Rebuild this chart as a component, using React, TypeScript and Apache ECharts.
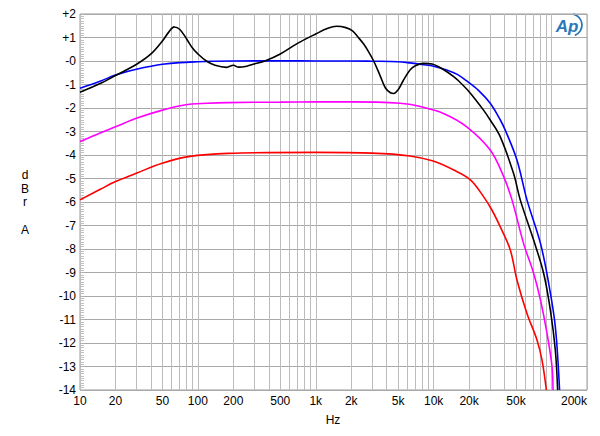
import React, { useEffect, useRef } from 'react';
import * as echarts from 'echarts';

const blackHz = [10, 15, 20, 30, 40, 50, 57, 63, 70, 80, 90, 100, 118, 140, 175, 200, 220, 260, 300, 370, 500, 700, 1000, 1250, 1500, 1800, 2050, 2300, 2550, 2800, 3100, 3500, 3900, 4300, 4600, 5000, 5500, 6300, 7000, 8200, 9700, 12000, 14800, 17500, 20500, 26500, 30200, 36700, 47600, 54300, 70500, 85700, 97800, 107700, 112700];
const blackDb = [-1.33, -0.95, -0.62, -0.15, 0.3, 0.85, 1.25, 1.45, 1.35, 0.95, 0.55, 0.3, 0.0, -0.18, -0.27, -0.18, -0.26, -0.22, -0.13, 0.0, 0.3, 0.75, 1.15, 1.38, 1.48, 1.42, 1.28, 1.0, 0.72, 0.4, 0.0, -0.6, -1.15, -1.35, -1.38, -1.22, -0.85, -0.38, -0.2, -0.1, -0.13, -0.35, -0.67, -1.0, -1.37, -2.09, -2.51, -3.22, -4.78, -5.91, -7.62, -9.03, -10.6, -12.3, -14];

const blueHz = [10, 15, 20, 30, 40, 50, 70, 100, 130, 200, 500, 1000, 2000, 3000, 5000, 6300, 8000, 10000, 12900, 16000, 19100, 24000, 30200, 36700, 40500, 50900, 61900, 80600, 94600, 107700, 117000];
const blueDb = [-1.16, -0.85, -0.6, -0.35, -0.22, -0.14, -0.07, -0.03, -0.01, 0.0, 0.01, 0.0, 0.0, -0.01, -0.03, -0.08, -0.15, -0.22, -0.38, -0.58, -0.85, -1.25, -1.8, -2.5, -2.94, -4.21, -5.91, -7.76, -9.46, -11.3, -14];

const magentaHz = [10, 15, 20, 30, 50, 77, 120, 180, 500, 1000, 2000, 5200, 7700, 12100, 19100, 30200, 39300, 46200, 57900, 70500, 80600, 91600, 101000, 103000];
const magentaDb = [-3.43, -3.05, -2.8, -2.44, -2.09, -1.87, -1.8, -1.77, -1.75, -1.74, -1.74, -1.8, -1.94, -2.23, -2.8, -3.79, -4.92, -5.91, -7.76, -9.03, -10.17, -11.59, -13.0, -14];

const redHz = [10, 15, 20, 30, 49, 83, 180, 1000, 3000, 6300, 9900, 14800, 20500, 26500, 31200, 36700, 44700, 50900, 61900, 75300, 83000, 90400];
const redDb = [-5.91, -5.45, -5.13, -4.78, -4.36, -4.07, -3.93, -3.89, -3.92, -4.04, -4.26, -4.64, -5.06, -5.77, -6.34, -7.05, -8.04, -9.32, -10.74, -11.87, -12.72, -14];

const xLabelHz = [10, 20, 50, 100, 200, 500, 1000, 2000, 5000, 10000, 20000, 50000, 100000, 200000];
const yMin = -14;
const yMax = 2;

const FONT = 'Liberation Sans, Arial, sans-serif';

function gridHz(): number[] {
  const out: number[] = [];
  for (let d = 10; d <= 100000; d *= 10) {
    for (let m = 1; m <= 9; m++) {
      const f = m * d;
      if (f <= 200000) out.push(f);
    }
  }
  out.push(200000);
  return out;
}

function fmtHz(v: number): string {
  const f = Math.round(Math.pow(10, v));
  return f >= 1000 ? f / 1000 + 'k' : String(f);
}

function fmtDb(v: number): string {
  if (v > 0) return '+' + v;
  if (v === 0) return '-0';
  return String(v);
}

function toData(hz: number[], db: number[]) {
  return hz.map((f, i) => [Math.log10(f), db[i]]);
}

export default function App() {
  const ref = useRef<HTMLDivElement>(null);
  useEffect(() => {
    if (!ref.current) return;
    const chart = echarts.init(ref.current, undefined, { renderer: 'svg' });
    const mk = (name: string, hz: number[], db: number[], color: string) => ({
      name,
      type: 'line',
      data: toData(hz, db),
      showSymbol: false,
      smooth: 0.35,
      lineStyle: { color, width: 1.6 },
      itemStyle: { color },
      clip: true,
    });
    const xMax = Math.log10(200000);
    chart.setOption({
      animation: false,
      backgroundColor: '#fff',
      grid: {
        left: 80,
        right: 13,
        top: 14,
        bottom: 46,
        show: true,
        borderColor: '#9a9a9a',
        borderWidth: 1,
      },
      xAxis: {
        type: 'value',
        min: 1,
        max: xMax,
        axisLine: { show: false },
        axisTick: { show: false, customValues: gridHz().map((f) => Math.log10(f)) },
        axisLabel: {
          customValues: xLabelHz.map((f) => Math.log10(f)),
          formatter: (v: number) => fmtHz(v),
          color: '#000',
          fontFamily: FONT,
          fontSize: 12,
          margin: 5,
          showMaxLabel: true,
          showMinLabel: true,
          hideOverlap: false,
          alignMaxLabel: 'right',
        },
        splitLine: { show: true, lineStyle: { color: '#bcbcbc', width: 1 } },
      },
      yAxis: {
        type: 'value',
        min: yMin,
        max: yMax,
        interval: 1,
        axisLine: { show: false },
        axisTick: { show: true, inside: true, length: 5, lineStyle: { color: '#b0b0b0' } },
        minorTick: { show: true, splitNumber: 10, length: 4, lineStyle: { color: '#c0c0c0' } },
        axisLabel: {
          formatter: (v: number) => fmtDb(v),
          color: '#000',
          fontFamily: FONT,
          fontSize: 12,
          margin: 4,
        },
        splitLine: { show: true, lineStyle: { color: '#a8a8a8', width: 1 } },
      },
      graphic: [
        {
          type: 'text',
          x: 25,
          y: 168,
          style: {
            text: 'd\nB\nr\n\nA',
            fontFamily: FONT,
            fontSize: 12,
            lineHeight: 13.7,
            fill: '#000',
            align: 'center',
          },
        },
        {
          type: 'text',
          x: 333,
          y: 420,
          style: {
            text: 'Hz',
            fontFamily: FONT,
            fontSize: 12,
            fill: '#000',
            align: 'center',
            verticalAlign: 'middle',
          },
        },
        {
          type: 'text',
          x: 567,
          y: 26,
          style: {
            text: 'Ap',
            fontFamily: FONT,
            fontSize: 17,
            fontStyle: 'italic',
            fontWeight: 'bold',
            fill: '#2a78b8',
            align: 'center',
            verticalAlign: 'middle',
          },
        },
        {
          type: 'arc',
          shape: { cx: 571, cy: 25, r: 11, startAngle: -Math.PI / 2.3, endAngle: Math.PI / 2.6 },
          style: { stroke: '#2a78b8', lineWidth: 1.8, fill: 'none' },
        },
      ],
      series: [
        mk('red', redHz, redDb, '#ff0000'),
        mk('magenta', magentaHz, magentaDb, '#ff00ff'),
        mk('blue', blueHz, blueDb, '#0000ff'),
        mk('black', blackHz, blackDb, '#000000'),
      ],
    });
    return () => chart.dispose();
  }, []);
  return <div ref={ref} style={{ width: 600, height: 436, position: 'absolute', left: 0, top: 0 }} />;
}
